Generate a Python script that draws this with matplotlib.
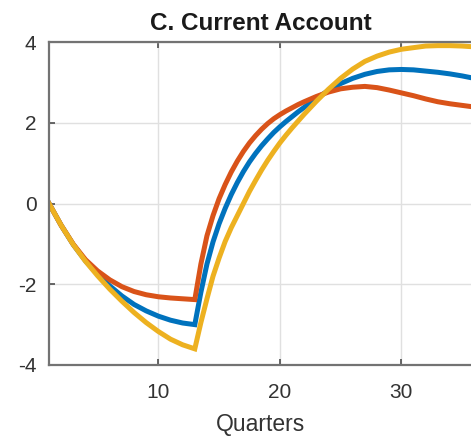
import matplotlib
matplotlib.use("Agg")
import matplotlib.pyplot as plt

quarters = [1, 2, 3, 4, 5, 6, 7, 8, 9, 10, 11, 12, 13,
            13.5, 14, 14.5, 15, 15.5, 16, 16.5, 17, 17.5, 18,
            18.5, 19, 19.5, 20, 20.5, 21, 21.5, 22,
            23, 24, 25, 26, 27, 28, 29, 30, 31, 32, 33, 34, 35, 36]
blue = [0, -0.54, -1.02, -1.42, -1.75, -2.04, -2.29, -2.5, -2.66, -2.79, -2.89, -2.96, -3.0,
        -2.2, -1.5, -0.95, -0.5, -0.12, 0.22, 0.52, 0.79, 1.03, 1.24,
        1.43, 1.6, 1.76, 1.9, 2.03, 2.15, 2.27, 2.38,
        2.6, 2.8, 2.97, 3.1, 3.2, 3.27, 3.31, 3.32, 3.31, 3.28, 3.25, 3.21, 3.16, 3.1]
orange = [0, -0.54, -1.01, -1.39, -1.67, -1.89, -2.06, -2.18, -2.26, -2.31, -2.34, -2.36, -2.38,
          -1.5, -0.8, -0.3, 0.12, 0.47, 0.78, 1.05, 1.29, 1.5, 1.68,
          1.84, 1.98, 2.1, 2.2, 2.29, 2.37, 2.45, 2.52,
          2.65, 2.76, 2.84, 2.88, 2.9, 2.87, 2.81, 2.74, 2.67, 2.59, 2.52, 2.47, 2.43, 2.39]
yellow = [0, -0.54, -1.02, -1.43, -1.79, -2.12, -2.42, -2.7, -2.95, -3.17, -3.36, -3.5, -3.6,
          -2.95, -2.36, -1.8, -1.35, -0.94, -0.6, -0.3, 0.0, 0.3, 0.57,
          0.83, 1.07, 1.29, 1.5, 1.69, 1.87, 2.04, 2.21,
          2.53, 2.83, 3.1, 3.33, 3.52, 3.65, 3.75, 3.82, 3.86, 3.9, 3.91, 3.91, 3.9, 3.88]
xticks = [10, 20, 30]
yticks = [-4, -2, 0, 2, 4]

plt.rcParams['font.family'] = ['Liberation Sans', 'DejaVu Sans']
plt.rcParams['axes.unicode_minus'] = False

W, H = 471, 437
fig = plt.figure(figsize=(W / 100, H / 100), dpi=100)
left_px, top_px, bottom_px = 49, 42, 365
px_per_unit = 12.15
width_px = (40 - 1) * px_per_unit
ax = fig.add_axes([left_px / W, 1 - bottom_px / H, width_px / W, (bottom_px - top_px) / H])

ax.plot(quarters, blue, color=(0.0, 0.447, 0.741), lw=3.6, solid_joinstyle='miter')
ax.plot(quarters, orange, color=(0.85, 0.325, 0.098), lw=3.6, solid_joinstyle='miter')
ax.plot(quarters, yellow, color=(0.929, 0.694, 0.125), lw=3.6, solid_joinstyle='miter')

ax.set_xlim(1, 40)
ax.set_ylim(-4, 4)
ax.set_xticks(xticks)
ax.set_yticks(yticks)
ax.grid(True, color=(0.88, 0.88, 0.88), lw=1.0)
ax.set_axisbelow(True)
for s in ax.spines.values():
    s.set_color((0.45, 0.45, 0.45))
    s.set_linewidth(1.6)
ax.tick_params(direction='in', length=4, width=1.2, color=(0.3, 0.3, 0.3),
               labelsize=15, labelcolor=(0.2, 0.2, 0.2), top=True, right=True)
ax.tick_params(axis='x', pad=13)
ax.tick_params(axis='y', pad=9)

ax.set_xlabel('Quarters', fontsize=16.5, color=(0.2, 0.2, 0.2), labelpad=3)
ax.xaxis.set_label_coords((261 - left_px) / width_px, -(424 - bottom_px) / (bottom_px - top_px))
ax.xaxis.label.set_va('center')
fig.text(261 / W, 1 - 23 / H, 'C. Current Account', fontsize=17.5, fontweight='bold',
         ha='center', va='center', color=(0.1, 0.1, 0.1))

fig.savefig('out.png', dpi=100)
